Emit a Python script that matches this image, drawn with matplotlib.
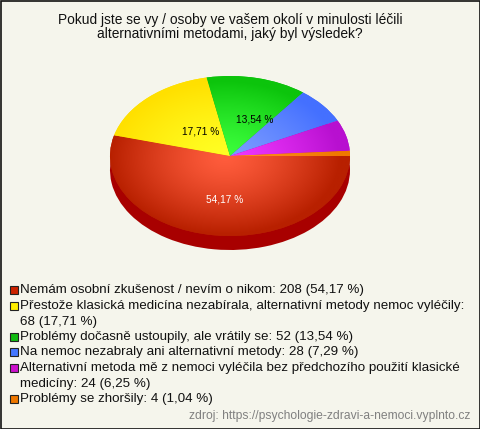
import matplotlib
matplotlib.use("Agg")
import matplotlib.pyplot as plt
import numpy as np
from matplotlib.colors import LinearSegmentedColormap
from matplotlib.patches import Rectangle

plt.rcParams["font.family"] = ["Liberation Sans", "DejaVu Sans"]

W, H = 480, 429
BG = "#F5F5EC"

values = [54.17, 17.71, 13.54, 7.29, 6.25, 1.04]
slice_labels = ["54,17 %", "17,71 %", "13,54 %", "", "", ""]
light_colors = ["#FF5C3C", "#FFFF24", "#3CFF3C", "#7C9CFF", "#F038FF", "#FF9020"]
dark_colors = ["#B82000", "#FFE000", "#0CC40C", "#4470FF", "#B810D0", "#F07800"]
legend_colors = ["#CC2200", "#FFEE00", "#11BB11", "#4477FF", "#CC11CC", "#EE7700"]
legend_lines = [
    "Nemám osobní zkušenost / nevím o nikom: 208 (54,17 %)",
    "Přestože klasická medicína nezabírala, alternativní metody nemoc vyléčily:\n68 (17,71 %)",
    "Problémy dočasně ustoupily, ale vrátily se: 52 (13,54 %)",
    "Na nemoc nezabraly ani alternativní metody: 28 (7,29 %)",
    "Alternativní metoda mě z nemoci vyléčila bez předchozího použití klasické\nmedicíny: 24 (6,25 %)",
    "Problémy se zhoršily: 4 (1,04 %)",
]
title = "Pokud jste se vy / osoby ve vašem okolí v minulosti léčili\nalternativními metodami, jaký byl výsledek?"
source = "zdroj: https://psychologie-zdravi-a-nemoci.vyplnto.cz"

fig = plt.figure(figsize=(W / 100, H / 100), dpi=100, facecolor=BG)

# pie axes: unit circle squashed into the ellipse
cx, cy, rx, ry, depth = 230, 156, 120, 80, 14
ax = fig.add_axes([(cx - rx) / W, 1 - (cy + ry) / H, 2 * rx / W, 2 * ry / H])
ax.axis("off")

# side of the pie, only the red slice shows at the front
side, _ = ax.pie(values, startangle=0, counterclock=False, radius=1.0,
                 center=(0, -depth / ry), colors=["#A80000"] * 6, frame=False)
for s in side:
    s.set_clip_on(False)
top, _ = ax.pie(values, startangle=0, counterclock=False, radius=1.0,
                colors=dark_colors, frame=False)

gx, gy = np.meshgrid(np.linspace(-1, 1, 300), np.linspace(-1, 1, 300))
dist = np.hypot(gx + 0.04, gy + 0.02) ** 1.3
for wedge, c0, c1 in zip(top, light_colors, dark_colors):
    wedge.set_clip_on(False)
    cmap = LinearSegmentedColormap.from_list("g", [c0, c1])
    im = ax.imshow(dist, extent=(-1, 1, -1, 1), origin="lower", cmap=cmap,
                   vmin=0, vmax=0.95, aspect="auto", zorder=2)
    im.set_clip_path(wedge)

ax.set_aspect("auto")
ax.set_xlim(-1, 1)
ax.set_ylim(-1, 1)

# overlay in pixel coordinates for all the text
ov = fig.add_axes([0, 0, 1, 1], facecolor="none")
ov.set_xlim(0, W)
ov.set_ylim(H, 0)
ov.axis("off")

ov.add_patch(Rectangle((0.5, 0.5), W - 1, H - 1, fill=False, ec="#111111", lw=1.2))

ov.text(230, 27, title, ha="center", va="center", fontsize=9.9, color="#111111",
        linespacing=1.0)

label_pos = [(225, 199), (201, 132), (255, 119)]
label_cols = ["white", "black", "black"]
for text, pos, col in zip(slice_labels[:3], label_pos, label_cols):
    ov.text(pos[0], pos[1], text, ha="center", va="center", fontsize=7.3, color=col)

legend_y = [289, 305, 336, 351, 367, 398]
for y, col, line in zip(legend_y, legend_colors, legend_lines):
    ov.add_patch(Rectangle((9.5, y - 3.5), 8, 8, fc=col, ec="#222222", lw=0.8))
    ov.text(20, y - 5, line, ha="left", va="top", fontsize=9.6, color="#111111",
            linespacing=1.4)

ov.text(470, 416.5, source, ha="right", va="center", fontsize=8.75, color="#808080")

fig.savefig("out.png", dpi=100, facecolor=BG)
